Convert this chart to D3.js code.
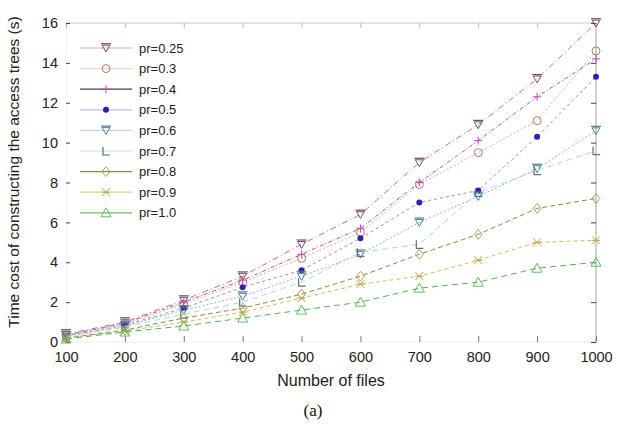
<!DOCTYPE html>
<html><head><meta charset="utf-8">
<script src="https://cdn.jsdelivr.net/npm/d3@7"></script>
<style>body{margin:0;background:#fff}svg{display:block}</style>
</head><body>
<script>
const files = [100,200,300,400,500,600,700,800,900,1000];
const yTicks = [0,2,4,6,8,10,12,14,16];
const seriesNames = ["pr=0.25","pr=0.3","pr=0.4","pr=0.5","pr=0.6","pr=0.7","pr=0.8","pr=0.9","pr=1.0"];
const pr025 = [0.4,1.0,2.1,3.3,4.9,6.4,9.0,10.9,13.2,16.0];
const pr03  = [0.35,0.9,1.9,3.0,4.2,5.5,7.9,9.5,11.1,14.6];
const pr04  = [0.35,0.95,2.0,3.1,4.4,5.7,8.0,10.1,12.3,14.2];
const pr05  = [0.3,0.85,1.7,2.75,3.6,5.2,7.0,7.6,10.3,13.3];
const pr06  = [0.3,0.8,1.6,2.3,3.3,4.4,6.0,7.3,8.7,10.6];
const pr07  = [0.25,0.75,1.4,2.0,3.0,4.5,4.9,7.5,8.6,9.6];
const pr08  = [0.2,0.6,1.2,1.7,2.4,3.3,4.4,5.4,6.7,7.2];
const pr09  = [0.2,0.55,1.0,1.5,2.2,2.9,3.3,4.1,5.0,5.1];
const pr10  = [0.15,0.5,0.8,1.2,1.6,2.0,2.7,3.0,3.7,4.0];
const allValues = [pr025,pr03,pr04,pr05,pr06,pr07,pr08,pr09,pr10];
const lineColors = ["#d86a84","#eeaa90","#a06090","#a088d8","#88b8d8","#a8d8e8","#8a8a40","#c8c060","#50b850"];
const legendLineColors = ["#f0c0cc","#f6d4c4","#444444","#c8b8ec","#b8d8ec","#d4ecf4","#8a8a40","#d8d480","#60c060"];
const markColors = ["#705060","#a08070","#d040c0","#3020b0","#508090","#607070","#b0a060","#c0a040","#60c060"];
const dashes = ["6,3,1,3","2,2","4,2,1,2","3,3","2,2","6,4","5,3","4,3","6,4"];
const markers = ["tridown","circle","plus","dot","tridown","square","diamond","star","triangle"];

const W=626,H=427;
const svg=d3.select("body").append("svg").attr("width",W).attr("height",H);
const x=d3.scaleLinear().domain([100,1000]).range([66,596]);
const y=d3.scaleLinear().domain([0,16]).range([342,23]);

const g=svg.append("g");
g.append("line").attr("x1",66).attr("x2",596).attr("y1",23).attr("y2",23).attr("stroke","#c8c8c8");
g.append("line").attr("x1",596).attr("x2",596).attr("y1",23).attr("y2",342).attr("stroke","#a0a0a0");
g.append("line").attr("x1",66).attr("x2",66).attr("y1",23).attr("y2",342).attr("stroke","#efefef");
g.append("line").attr("x1",66).attr("x2",596).attr("y1",342).attr("y2",342).attr("stroke","#efefef");

const font="'Liberation Sans', Arial, sans-serif";
const xAxis=d3.axisBottom(x).tickValues(files).tickSize(-6).tickPadding(10).tickFormat(d3.format("d"));
const xa=svg.append("g").attr("transform","translate(0,342)").call(xAxis);
xa.select(".domain").remove();
xa.selectAll("line").attr("stroke","#777");
xa.selectAll("text").attr("font-family",font).attr("font-size",14.5).attr("fill","#222");
const xt=svg.append("g").attr("transform","translate(0,23)").call(d3.axisTop(x).tickValues(files).tickSize(-5).tickFormat(""));
xt.select(".domain").remove(); xt.selectAll("line").attr("stroke","#bbb");

const yAxis=d3.axisLeft(y).tickValues(yTicks).tickSize(-4).tickPadding(8).tickFormat(d3.format("d"));
const ya=svg.append("g").attr("transform","translate(66,0)").call(yAxis);
ya.select(".domain").remove();
ya.selectAll("line").attr("stroke","#444");
ya.selectAll("text").attr("font-family",font).attr("font-size",14.5).attr("fill","#222");
const yr=svg.append("g").attr("transform","translate(596,0)").call(d3.axisRight(y).tickValues(yTicks).tickSize(-5).tickFormat(""));
yr.select(".domain").remove(); yr.selectAll("line").attr("stroke","#444");

svg.append("text").attr("x",331).attr("y",386).attr("text-anchor","middle").attr("font-family",font).attr("font-size",16).attr("fill","#222").text("Number of files");
svg.append("text").attr("transform","translate(19,172) rotate(-90)").attr("text-anchor","middle").attr("font-family",font).attr("font-size",15.5).attr("fill","#222").text("Time cost of constructing the access trees (s)");
svg.append("text").attr("x",313).attr("y",416).attr("text-anchor","middle").attr("font-family","'Liberation Serif', 'Times New Roman', serif").attr("font-size",17).attr("fill","#111").text("(a)");

function drawMarker(sel,type,color,cx,cy){
  const s=4;
  if(type==="tridown"){
    sel.append("path").attr("d",`M${cx-s},${cy-s*0.7}L${cx+s},${cy-s*0.7}L${cx},${cy+s}Z`).attr("fill","none").attr("stroke",color).attr("stroke-width",1);
    sel.append("line").attr("x1",cx-s-1).attr("x2",cx+s+1).attr("y1",cy-s*0.7-1.5).attr("y2",cy-s*0.7-1.5).attr("stroke",color).attr("stroke-width",1.2);
  } else if(type==="circle"){
    sel.append("circle").attr("cx",cx).attr("cy",cy).attr("r",s).attr("fill","none").attr("stroke",color).attr("stroke-width",1);
  } else if(type==="plus"){
    sel.append("path").attr("d",`M${cx-s},${cy}L${cx+s},${cy}M${cx},${cy-s}L${cx},${cy+s}`).attr("stroke",color).attr("stroke-width",1);
  } else if(type==="dot"){
    sel.append("circle").attr("cx",cx).attr("cy",cy).attr("r",3).attr("fill",color);
  } else if(type==="square"){
    sel.append("path").attr("d",`M${cx-s+1},${cy-s}L${cx-s+1},${cy+s}L${cx+s},${cy+s}`).attr("fill","none").attr("stroke",color).attr("stroke-width",1.2);
  } else if(type==="diamond"){
    sel.append("path").attr("d",`M${cx},${cy-s-1}L${cx+s},${cy}L${cx},${cy+s+1}L${cx-s},${cy}Z`).attr("fill","none").attr("stroke",color).attr("stroke-width",1);
  } else if(type==="star"){
    sel.append("path").attr("d",`M${cx-s},${cy-s}L${cx+s},${cy+s}M${cx-s},${cy+s}L${cx+s},${cy-s}M${cx-s},${cy}L${cx+s},${cy}`).attr("stroke",color).attr("stroke-width",1);
  } else if(type==="triangle"){
    sel.append("path").attr("d",`M${cx},${cy-s-1}L${cx+s+1},${cy+s}L${cx-s-1},${cy+s}Z`).attr("fill","none").attr("stroke",color).attr("stroke-width",1);
  }
}

const line=d3.line().x((d,i)=>x(files[i])).y(d=>y(d));
allValues.forEach((vals,k)=>{
  const sg=svg.append("g");
  sg.append("path").datum(vals).attr("d",line).attr("fill","none").attr("stroke",lineColors[k]).attr("stroke-width",1).attr("stroke-dasharray",dashes[k]||null);
  vals.forEach((v,i)=>drawMarker(sg,markers[k],markColors[k],x(files[i]),y(v)));
});

const lg=svg.append("g");
seriesNames.forEach((n,k)=>{
  const ly=48+k*20.6;
  lg.append("line").attr("x1",80).attr("x2",132).attr("y1",ly).attr("y2",ly).attr("stroke",legendLineColors[k]).attr("stroke-width",1.3);
  drawMarker(lg,markers[k],markColors[k],106,ly);
  lg.append("text").attr("x",139).attr("y",ly+4.5).attr("font-family",font).attr("font-size",13).attr("fill","#222").text(n);
});
</script>
</body></html>
